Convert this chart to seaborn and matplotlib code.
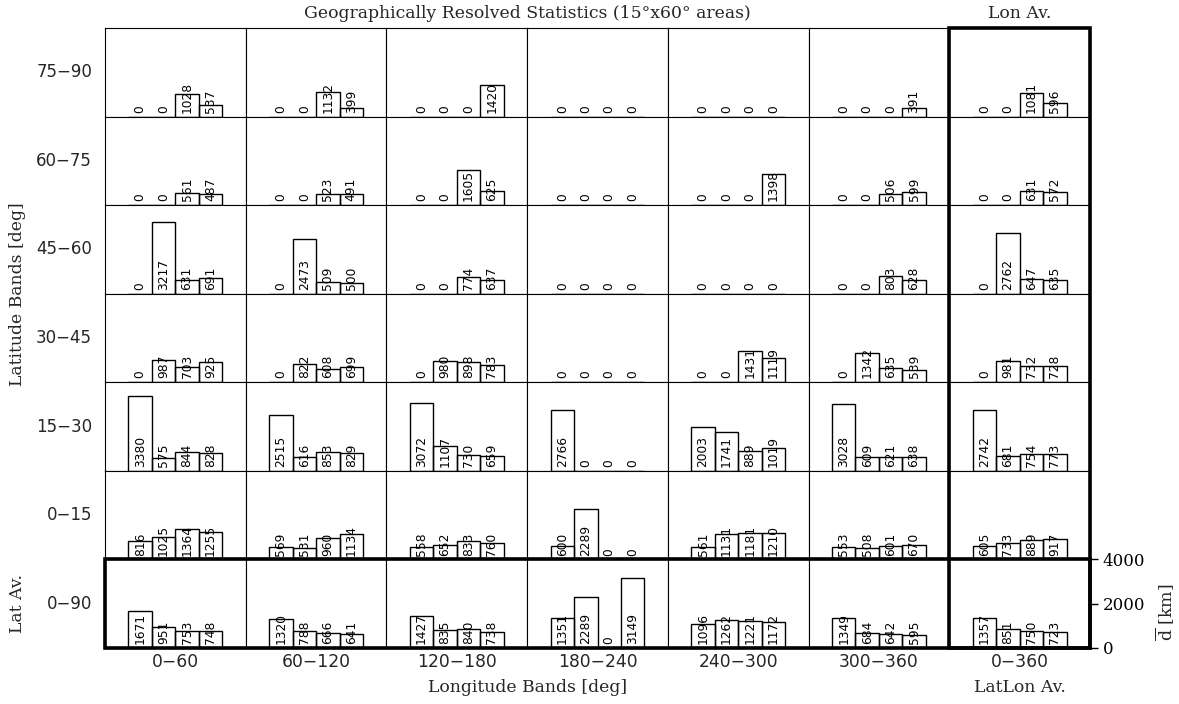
import matplotlib
matplotlib.use("Agg")
import matplotlib.pyplot as plt
from matplotlib import font_manager
from matplotlib.patches import Rectangle
import pandas as pd
import seaborn as sns

# Longitude columns (last one is the longitude average) and latitude rows
# (last one is the latitude average).
lon_bands = ["0−60", "60−120", "120−180", "180−240", "240−300", "300−360", "0−360"]
lat_bands = ["75−90", "60−75", "45−60", "30−45", "15−30", "0−15", "0−90"]
size_bins = ["1", "2", "3", "4"]

# Mean distance d [km] of the four bins, one list of four per longitude column
lat_75_90 = [[0, 0, 1028, 537], [0, 0, 1132, 399], [0, 0, 0, 1420], [0, 0, 0, 0],
             [0, 0, 0, 0], [0, 0, 0, 391], [0, 0, 1081, 596]]
lat_60_75 = [[0, 0, 561, 487], [0, 0, 523, 491], [0, 0, 1605, 625], [0, 0, 0, 0],
             [0, 0, 0, 1398], [0, 0, 506, 599], [0, 0, 631, 572]]
lat_45_60 = [[0, 3217, 631, 691], [0, 2473, 509, 500], [0, 0, 774, 637], [0, 0, 0, 0],
             [0, 0, 0, 0], [0, 0, 803, 628], [0, 2762, 647, 635]]
lat_30_45 = [[0, 987, 703, 925], [0, 822, 608, 699], [0, 980, 898, 783], [0, 0, 0, 0],
             [0, 0, 1431, 1119], [0, 1342, 635, 539], [0, 981, 732, 728]]
lat_15_30 = [[3380, 575, 844, 828], [2515, 616, 853, 829], [3072, 1107, 730, 659],
             [2766, 0, 0, 0], [2003, 1741, 889, 1019], [3028, 609, 621, 638],
             [2742, 681, 754, 773]]
lat_0_15 = [[816, 1025, 1364, 1255], [569, 531, 960, 1134], [558, 652, 833, 760],
            [600, 2289, 0, 0], [561, 1131, 1181, 1210], [553, 508, 601, 670],
            [605, 733, 889, 917]]
lat_0_90 = [[1671, 951, 753, 748], [1320, 788, 666, 641], [1427, 835, 840, 738],
            [1351, 2289, 0, 3149], [1096, 1262, 1221, 1172], [1349, 684, 642, 595],
            [1357, 851, 750, 723]]

rows = [lat_75_90, lat_60_75, lat_45_60, lat_30_45, lat_15_30, lat_0_15, lat_0_90]

records = []
for r, lat in enumerate(lat_bands):
    for c, lon in enumerate(lon_bands):
        for b, v in zip(size_bins, rows[r][c]):
            records.append({"lat": lat, "lon": lon, "bin": b, "d": v})
df = pd.DataFrame(records)

sns.set_theme(style="white")
plt.rcParams["font.family"] = ["DejaVu Sans"]
plt.rcParams["mathtext.fontset"] = "dejavuserif"

# Narrow face for the in-bar numbers when one is available
_names = {f.name for f in font_manager.fontManager.ttflist}
if "Liberation Sans Narrow" in _names:
    VAL_FONT, VAL_SIZE = "Liberation Sans Narrow", 10.2
else:
    VAL_FONT, VAL_SIZE = "DejaVu Sans", 8.8

W, H = 1179, 704
fig = plt.figure(figsize=(W / 100, H / 100), dpi=100)

X0, X1, Y0, Y1 = 105, 1090, 28, 648
DX = (X1 - X0) / 7
DY = (Y1 - Y0) / 7
YMAX = 4000


def fx(x):
    return x / W


def fy(y):
    return 1 - y / H


SERIF = "DejaVu Serif"
SANS = "DejaVu Sans"
SERIF_SIZE = 12.4

for r, lat in enumerate(lat_bands):
    for c, lon in enumerate(lon_bands):
        left = X0 + c * DX
        top = Y0 + r * DY
        ax = fig.add_axes([fx(left), fy(top + DY), DX / W, DY / H])
        sub = df[(df["lat"] == lat) & (df["lon"] == lon)]
        sns.barplot(data=sub, x="bin", y="d", order=size_bins, ax=ax,
                    fill=False, color="black", width=1.0, linewidth=1.0,
                    errorbar=None)
        ax.set_xlim(-1.5, 4.5)
        ax.set_ylim(0, YMAX)
        ax.set_xlabel("")
        ax.set_ylabel("")
        ax.set_xticks([])
        ax.set_yticks([])
        for s in ax.spines.values():
            s.set_color("black")
            s.set_linewidth(0.8)
        for i, v in enumerate(sub["d"].tolist()):
            ax.annotate(f"{v}", xy=(i, 0), xytext=(0, 2.8),
                        textcoords="offset points", rotation=90,
                        ha="center", va="bottom", fontsize=VAL_SIZE,
                        family=VAL_FONT, color="black")
        if r == 6 and c == 6:
            ax.yaxis.tick_right()
            ax.set_yticks([0, 2000, 4000])
            ax.set_yticklabels(["0", "2000", "4000"], family=SERIF, fontsize=12)
            ax.tick_params(axis="y", which="both", right=True, direction="out",
                           length=6, width=1, pad=3, colors="black")

# Heavy frames around the longitude-average column and latitude-average row
fig.add_artist(Rectangle((fx(X0 + 6 * DX), fy(Y1)), DX / W, (Y1 - Y0) / H,
                         transform=fig.transFigure, fill=False, lw=2.6,
                         edgecolor="black", zorder=10))
fig.add_artist(Rectangle((fx(X0), fy(Y1)), (X1 - X0) / W, DY / H,
                         transform=fig.transFigure, fill=False, lw=2.6,
                         edgecolor="black", zorder=10))

# Row and column labels
for r, lat in enumerate(lat_bands):
    fig.text(fx(92), fy(Y0 + (r + 0.5) * DY), lat, ha="right", va="center",
             fontsize=12, family=SANS)
for c, lon in enumerate(lon_bands):
    fig.text(fx(X0 + (c + 0.5) * DX), fy(662), lon, ha="center", va="center",
             fontsize=12.3, family=SANS)

fig.text(fx(X0 + 3 * DX), fy(13),
         "Geographically Resolved Statistics (15°x60° areas)",
         ha="center", va="center", fontsize=SERIF_SIZE, family=SERIF)
fig.text(fx(X0 + 6.5 * DX), fy(13), "Lon Av.", ha="center", va="center",
         fontsize=SERIF_SIZE, family=SERIF)
fig.text(fx(X0 + 3 * DX), fy(688), "Longitude Bands [deg]", ha="center",
         va="center", fontsize=SERIF_SIZE, family=SERIF)
fig.text(fx(X0 + 6.5 * DX), fy(688), "LatLon Av.", ha="center", va="center",
         fontsize=SERIF_SIZE, family=SERIF)
fig.text(fx(18), fy(Y0 + 3 * DY), "Latitude Bands [deg]", ha="center",
         va="center", rotation=90, fontsize=SERIF_SIZE, family=SERIF)
fig.text(fx(18), fy(Y0 + 6.5 * DY), "Lat Av.", ha="center", va="center",
         rotation=90, fontsize=SERIF_SIZE, family=SERIF)
fig.text(fx(1166), fy(612), r"$\overline{\mathrm{d}}$ [km]", ha="center",
         va="center", rotation=90, fontsize=12.5, family=SERIF)

fig.savefig("out.png", dpi=100)
